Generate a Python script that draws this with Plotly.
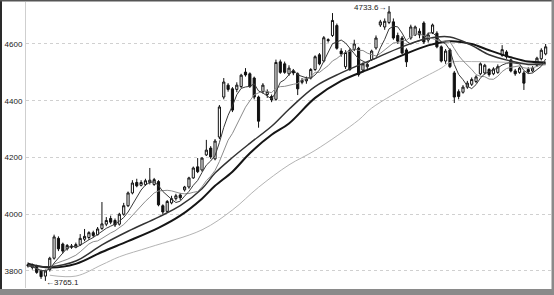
import plotly.graph_objects as go
import pandas as pd

W, H = 554, 295

# ---- candle data (index 0..119) ----
opens = [3822,3820,3818,3800,3782,3805,3845,3915,3895,3878,
         3888,3884,3892,3912,3918,3935,3928,3950,3965,3985,
         3978,3965,4000,4030,4075,4112,4102,4105,4112,4105,
         4115,4030,4010,4040,4055,4068,4086,4096,4128,4167,
         4156,4209,4233,4195,4272,4413,4455,4442,4440,4450,
         4501,4495,4480,4413,4432,4422,4415,4405,4537,4530,
         4495,4505,4495,4465,4470,4480,4510,4562,4540,4612,
         4630,4665,4575,4520,4578,4580,4585,4508,4520,4545,
         4586,4667,4660,4676,4678,4630,4621,4579,4621,4632,
         4645,4674,4614,4640,4638,4590,4540,4579,4498,4432,
         4430,4448,4458,4468,4495,4498,4510,4495,4500,4560,
         4572,4544,4505,4500,4498,4510,4505,4525,4548,4565]
highs = [3830,3826,3822,3805,3805,3850,3928,3922,3900,3895,
         3895,3900,3930,3948,3940,3942,3955,4043,3990,3995,
         3985,4005,4040,4080,4120,4125,4120,4125,4163,4128,
         4120,4035,4050,4065,4072,4075,4100,4132,4168,4198,
         4200,4262,4240,4265,4385,4480,4462,4448,4465,4495,
         4515,4500,4485,4418,4462,4440,4422,4545,4545,4538,
         4525,4512,4500,4480,4485,4515,4560,4568,4628,4620,
         4709,4672,4585,4578,4585,4615,4590,4535,4535,4580,
         4630,4685,4690,4733.6,4690,4640,4628,4585,4668,4665,
         4655,4680,4640,4672,4645,4595,4582,4585,4505,4440,
         4455,4470,4482,4490,4535,4530,4515,4518,4528,4596,
         4578,4548,4512,4520,4505,4518,4522,4555,4585,4600]
lows = [3812,3805,3790,3772,3765.1,3798,3840,3870,3862,3872,
        3878,3880,3888,3905,3910,3918,3925,3945,3958,3965,
        3955,3960,3995,4025,4070,4095,4098,4100,4105,4100,
        4028,4000,4005,4035,4048,4050,4080,4090,4125,4145,
        4150,4205,4195,4190,4265,4405,4432,4360,4430,4445,
        4485,4445,4405,4305,4425,4410,4395,4400,4495,4495,
        4488,4490,4420,4458,4460,4475,4505,4525,4535,4605,
        4625,4580,4555,4512,4505,4575,4485,4500,4512,4540,
        4580,4660,4650,4670,4615,4600,4565,4519,4615,4628,
        4620,4600,4605,4635,4585,4535,4530,4515,4392,4405,
        4425,4442,4452,4462,4490,4492,4485,4490,4495,4555,
        4548,4500,4488,4495,4438,4495,4500,4520,4542,4560]
closes = [3818,3812,3795,3780,3800,3845,3920,3878,3870,3890,
          3884,3893,3915,3922,3935,3925,3948,3966,3978,3972,
          3962,4000,4030,4075,4110,4100,4112,4118,4120,4122,
          4033,4008,4045,4055,4065,4058,4096,4128,4163,4150,
          4198,4226,4202,4258,4378,4466,4440,4367,4455,4490,
          4491,4450,4413,4328,4455,4432,4403,4535,4500,4500,
          4515,4498,4442,4472,4476,4510,4555,4530,4622,4615,
          4683,4585,4565,4570,4510,4600,4492,4530,4528,4575,
          4621,4678,4680,4713,4621,4610,4568,4537,4660,4660,
          4632,4607,4632,4667,4590,4540,4575,4520,4413,4415,
          4448,4462,4475,4484,4530,4525,4492,4512,4520,4580,
          4555,4505,4495,4515,4462,4502,4515,4550,4578,4590]
idx = list(range(len(closes)))

# ---- long moving averages (index : value) ----
ma20_idx = [0, 5, 11, 17, 23, 30, 35, 40, 43, 47, 51, 56, 60, 66, 72, 79, 86, 92, 97, 102, 106, 111, 115, 119]
ma20_val = [3822, 3815, 3835, 3892, 3940, 3990, 4030, 4090, 4145, 4200, 4250, 4310, 4370, 4450, 4498, 4544, 4590, 4620, 4625, 4595, 4562, 4540, 4528, 4530]
ma30_idx = [0, 5, 11, 17, 23, 30, 35, 40, 43, 47, 51, 56, 60, 66, 72, 79, 86, 92, 97, 102, 106, 111, 115, 119]
ma30_val = [3826, 3812, 3825, 3867, 3905, 3952, 3995, 4055, 4100, 4150, 4215, 4280, 4320, 4410, 4470, 4515, 4560, 4595, 4610, 4600, 4578, 4553, 4538, 4535]
ma60_idx = [5, 11, 17, 21, 28, 40, 47, 53, 60, 66, 76, 79, 89, 95, 97, 102, 111, 119]
ma60_val = [3785, 3782, 3822, 3850, 3884, 3945, 4015, 4095, 4174, 4225, 4332, 4374, 4466, 4515, 4535, 4538, 4535, 4530]

yticks = [3800, 4000, 4200, 4400, 4600]
high_label = "4733.6→"
low_label = "←3765.1"

s = pd.Series(closes, dtype=float)
ma5 = s.rolling(5, min_periods=1).mean().tolist()
ma10 = s.rolling(10, min_periods=1).mean().tolist()

FONT = "Liberation Sans Narrow, Liberation Sans, Arial, sans-serif"

fig = go.Figure()
fig.add_trace(go.Scatter(x=ma60_idx, y=ma60_val, mode="lines", line=dict(color="#b4b4b4", width=1, shape="spline"), hoverinfo="skip"))
fig.add_trace(go.Scatter(x=ma30_idx, y=ma30_val, mode="lines", line=dict(color="#151515", width=2, shape="spline"), hoverinfo="skip"))
fig.add_trace(go.Scatter(x=ma20_idx, y=ma20_val, mode="lines", line=dict(color="#333333", width=1.5, shape="spline"), hoverinfo="skip"))
fig.add_trace(go.Scatter(x=idx, y=ma10, mode="lines", line=dict(color="#8c8c8c", width=1), hoverinfo="skip"))
fig.add_trace(go.Scatter(x=idx, y=ma5, mode="lines", line=dict(color="#3a3a3a", width=1), hoverinfo="skip"))
fig.add_trace(go.Candlestick(
    x=idx, open=opens, high=highs, low=lows, close=closes,
    increasing=dict(line=dict(color="#111111", width=1), fillcolor="#ffffff"),
    decreasing=dict(line=dict(color="#111111", width=1), fillcolor="#111111"),
    whiskerwidth=0,
))

x0 = 26 / W
x1 = 551 / W
y0 = (H - 288) / H
y1 = (H - 2) / H

fig.update_layout(
    width=W, height=H,
    margin=dict(l=0, r=0, t=0, b=0),
    paper_bgcolor="white", plot_bgcolor="white",
    showlegend=False,
    xaxis=dict(domain=[x0, x1], range=[-0.46, 120.23], showgrid=False, zeroline=False,
               showticklabels=False, ticks="", showline=False, rangeslider=dict(visible=False)),
    yaxis=dict(domain=[y0, y1], range=[3740, 4748], tickvals=yticks,
               ticktext=[str(v) for v in yticks],
               showgrid=True, gridcolor="#d0d0d0", griddash="dot", gridwidth=1,
               zeroline=False, showline=True, linecolor="#cfcfcf", linewidth=1,
               ticks="", ticklabelstandoff=1,
               tickfont=dict(family=FONT, size=8, color="#222222")),
    annotations=[
        dict(x=83 - 0.2, y=4728, xref="x", yref="y", text=high_label, showarrow=False,
             xanchor="right", yanchor="middle", font=dict(family=FONT, size=8, color="#222222")),
        dict(x=3.6, y=3761, xref="x", yref="y", text=low_label, showarrow=False,
             xanchor="left", yanchor="middle", font=dict(family=FONT, size=8, color="#222222")),
    ],
    shapes=[
        dict(type="rect", xref="paper", yref="paper", x0=0, x1=2 / W, y0=0, y1=1,
             fillcolor="#2a2a2a", line=dict(width=0), layer="above"),
        dict(type="rect", xref="paper", yref="paper", x0=0, x1=1, y0=1 - 1.5 / H, y1=1,
             fillcolor="#555555", line=dict(width=0), layer="above"),
        dict(type="rect", xref="paper", yref="paper", x0=551.5 / W, x1=1, y0=0, y1=1,
             fillcolor="#8a8a8a", line=dict(width=0), layer="above"),
        dict(type="rect", xref="paper", yref="paper", x0=0, x1=1, y0=0, y1=6 / H,
             fillcolor="#8a8a8a", line=dict(width=0), layer="above"),
    ],
)

fig.write_html("out.html")
